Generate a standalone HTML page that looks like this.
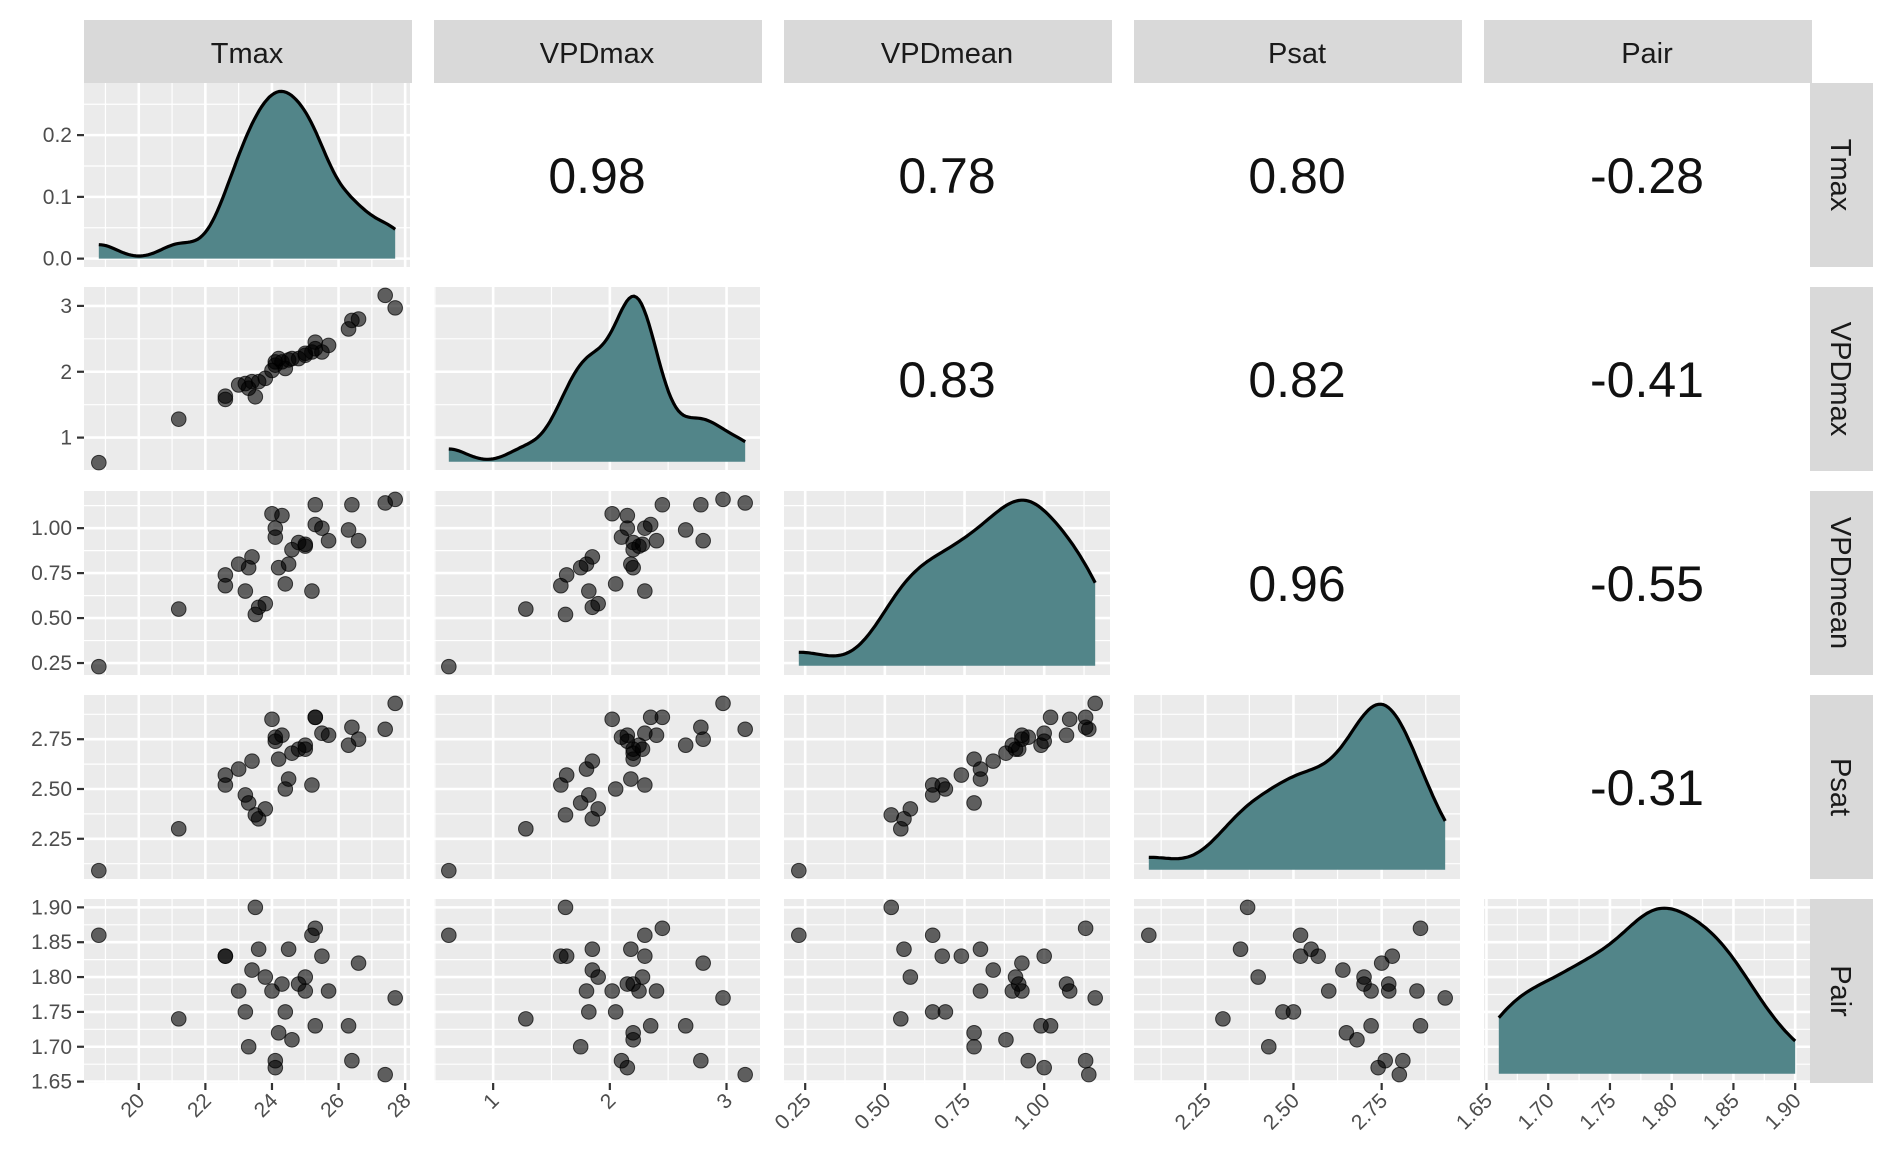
<!DOCTYPE html>
<html><head><meta charset="utf-8"><style>
body{margin:0;background:#fff;}
svg{display:block;font-family:"Liberation Sans",sans-serif;}
</style></head><body>
<svg id="c" width="1892" height="1164"></svg>
<script>
const varNames=["Tmax","VPDmax","VPDmean","Psat","Pair"];
const tmax=[18.8,21.2,22.6,22.6,23.0,23.2,23.3,23.4,23.5,23.6,23.8,24.0,24.1,24.1,24.2,24.3,24.4,24.5,24.6,24.8,25.0,25.0,25.2,25.3,25.3,25.5,25.7,26.3,26.4,26.6,27.4,27.7];
const vpdmax=[0.62,1.28,1.58,1.63,1.80,1.82,1.75,1.85,1.62,1.85,1.90,2.02,2.10,2.15,2.20,2.15,2.05,2.18,2.20,2.20,2.25,2.28,2.30,2.45,2.35,2.30,2.40,2.65,2.78,2.80,3.16,2.97];
const vpdmean=[0.23,0.55,0.68,0.74,0.80,0.65,0.78,0.84,0.52,0.56,0.58,1.08,0.95,1.00,0.78,1.07,0.69,0.80,0.88,0.92,0.90,0.91,0.65,1.13,1.02,1.00,0.93,0.99,1.13,0.93,1.14,1.16];
const psat=[2.09,2.30,2.52,2.57,2.60,2.47,2.43,2.64,2.37,2.35,2.40,2.85,2.76,2.74,2.65,2.77,2.50,2.55,2.68,2.70,2.72,2.70,2.52,2.86,2.86,2.78,2.77,2.72,2.81,2.75,2.80,2.93];
const pair=[1.86,1.74,1.83,1.83,1.78,1.75,1.70,1.81,1.90,1.84,1.80,1.78,1.68,1.67,1.72,1.79,1.75,1.84,1.71,1.79,1.78,1.80,1.86,1.87,1.73,1.83,1.78,1.73,1.68,1.82,1.66,1.77];
const corrLabels=[["","0.98","0.78","0.80","-0.28"],["","","0.83","0.82","-0.41"],["","","","0.96","-0.55"],["","","","","-0.31"]];
const majorTicks=[[20,22,24,26,28],[1,2,3],[0.25,0.5,0.75,1.0],[2.25,2.5,2.75],[1.65,1.7,1.75,1.8,1.85,1.9]];
const tickText=[["20","22","24","26","28"],["1","2","3"],["0.25","0.50","0.75","1.00"],["2.25","2.50","2.75"],["1.65","1.70","1.75","1.80","1.85","1.90"]];
const densTicks=[0,0.1,0.2,0.3];
const densTickText=["0.0","0.1","0.2","0.3"];

const data=[tmax,vpdmax,vpdmean,psat,pair];
const svg=document.getElementById('c');
const NS="http://www.w3.org/2000/svg";
function mk(t,a,p){const e=document.createElementNS(NS,t);for(const k in a)e.setAttribute(k,a[k]);(p||svg).appendChild(e);return e;}
const colX=[84,434,784,1134,1484], rowY=[83,287,491,695,899], W=326, H=184;
const lim=data.map(d=>{const mn=Math.min(...d),mx=Math.max(...d),r=mx-mn;return [mn-0.05*r,mx+0.05*r];});
function sx(j,v){return colX[j]+(v-lim[j][0])/(lim[j][1]-lim[j][0])*W;}
function sy(i,v){return rowY[i]+H-(v-lim[i][0])/(lim[i][1]-lim[i][0])*H;}
function kde(d){const n=d.length,m=d.reduce((a,b)=>a+b)/n;const sd=Math.sqrt(d.reduce((a,b)=>a+(b-m)**2,0)/(n-1));
 const s=[...d].sort((a,b)=>a-b);const iqr=s[Math.floor(n*0.75)]-s[Math.floor(n*0.25)];
 const bw=0.82*Math.min(sd,iqr/1.34)*Math.pow(n,-0.2);const mn=s[0],mx=s[n-1];const pts=[];
 for(let k=0;k<=120;k++){const x=mn+(mx-mn)*k/120;let y=0;for(const v of d)y+=Math.exp(-0.5*((x-v)/bw)**2);y/=n*bw*Math.sqrt(2*Math.PI);pts.push([x,y]);}return pts;}
function grid(i,j,yScaleFn,yMaj){
 const g=mk('g',{});
 mk('rect',{x:colX[j],y:rowY[i],width:W,height:H,fill:'#EBEBEB'},g);
 const xm=majorTicks[j];const st=xm[1]-xm[0];
 for(let k=-1;k<xm.length;k++){const v=xm[0]+st*(k+0.5);const x=sx(j,v);if(x>colX[j]&&x<colX[j]+W)mk('line',{x1:x,x2:x,y1:rowY[i],y2:rowY[i]+H,stroke:'#fff','stroke-width':1.2},g);}
 for(const v of xm){const x=sx(j,v);if(x>=colX[j]&&x<=colX[j]+W)mk('line',{x1:x,x2:x,y1:rowY[i],y2:rowY[i]+H,stroke:'#fff','stroke-width':2.6},g);}
 const ys=yMaj[1]-yMaj[0];
 for(let k=-1;k<yMaj.length;k++){const y=yScaleFn(yMaj[0]+ys*(k+0.5));if(y>rowY[i]&&y<rowY[i]+H)mk('line',{x1:colX[j],x2:colX[j]+W,y1:y,y2:y,stroke:'#fff','stroke-width':1.2},g);}
 for(const v of yMaj){const y=yScaleFn(v);if(y>=rowY[i]&&y<=rowY[i]+H)mk('line',{x1:colX[j],x2:colX[j]+W,y1:y,y2:y,stroke:'#fff','stroke-width':2.6},g);}
}
const dens=data.map(kde);
const d0max=Math.max(...dens[0].map(p=>p[1]));
const dLim=[-0.05*d0max,1.05*d0max];
function syD(v){return rowY[0]+H-(v-dLim[0])/(dLim[1]-dLim[0])*H;}
for(let i=0;i<5;i++)for(let j=0;j<5;j++){
 if(j>i){const t=mk('text',{x:colX[j]+W/2,y:rowY[i]+H/2+18,'text-anchor':'middle','font-size':50,fill:'#111'});t.textContent=corrLabels[i][j];
  continue;}
 if(i===j){
  const yfn=i===0?syD:(v=>sy(i,v));
  grid(i,j,yfn,i===0?densTicks:majorTicks[i]);
  const pts=dens[i];const mx=Math.max(...pts.map(p=>p[1]));
  const yy=i===0?(v=>syD(v)):(v=>rowY[i]+H-(0.05+0.9*v/mx)*H);
  const base=yy(0);
  let d='M'+sx(j,pts[0][0])+','+base;for(const p of pts)d+=' L'+sx(j,p[0]).toFixed(1)+','+yy(p[1]).toFixed(1);
  d+=' L'+sx(j,pts[pts.length-1][0])+','+base+'Z';
  const a=mk('path',{d:d,fill:'#528589'});
  let l='';pts.forEach((p,k)=>{l+=(k?' L':'M')+sx(j,p[0]).toFixed(1)+','+yy(p[1]).toFixed(1);});
  const ln=mk('path',{d:l,fill:'none',stroke:'#000','stroke-width':3.2});
 } else {
  grid(i,j,v=>sy(i,v),majorTicks[i]);
  for(let k=0;k<data[j].length;k++){const c=mk('circle',{cx:sx(j,data[j][k]),cy:sy(i,data[i][k]),r:7.3,fill:'rgba(0,0,0,0.6)',stroke:'rgba(0,0,0,0.7)','stroke-width':1});
   }
 }
}
for(let j=0;j<5;j++){const r=mk('rect',{x:colX[j],y:20,width:W+2,height:63,fill:'#D9D9D9'});
 const t=mk('text',{x:colX[j]+W/2,y:63,'text-anchor':'middle','font-size':29,fill:'#1a1a1a'});t.textContent=varNames[j];}
for(let i=0;i<5;i++){const r=mk('rect',{x:1810,y:rowY[i],width:63,height:H,fill:'#D9D9D9'});
 const cx=1841,cy=rowY[i]+H/2;const t=mk('text',{x:cx,y:cy,'text-anchor':'middle','font-size':29,fill:'#1a1a1a',transform:`rotate(90 ${cx} ${cy}) translate(0 10)`});t.textContent=varNames[i];}
for(let i=0;i<5;i++){const ticks=i===0?densTicks:majorTicks[i];const labs=i===0?densTickText:tickText[i];
 ticks.forEach((v,k)=>{const y=i===0?syD(v):sy(i,v);if(y<rowY[i]-1||y>rowY[i]+H+1)return;
  mk('line',{x1:77,x2:84,y1:y,y2:y,stroke:'#333','stroke-width':2.2});
  const t=mk('text',{x:72,y:y+7,'text-anchor':'end','font-size':21,fill:'#4d4d4d'});t.textContent=labs[k];});}
for(let j=0;j<5;j++){majorTicks[j].forEach((v,k)=>{const x=sx(j,v);if(x<colX[j]-1||x>colX[j]+W+1)return;
 mk('line',{x1:x,x2:x,y1:1083,y2:1090,stroke:'#333','stroke-width':2.2});
 const t=mk('text',{x:x+7,y:1102,'text-anchor':'end','font-size':21,fill:'#4d4d4d',transform:`rotate(-45 ${x+7} ${1102})`});t.textContent=tickText[j][k];});}
</script>
</body></html>
